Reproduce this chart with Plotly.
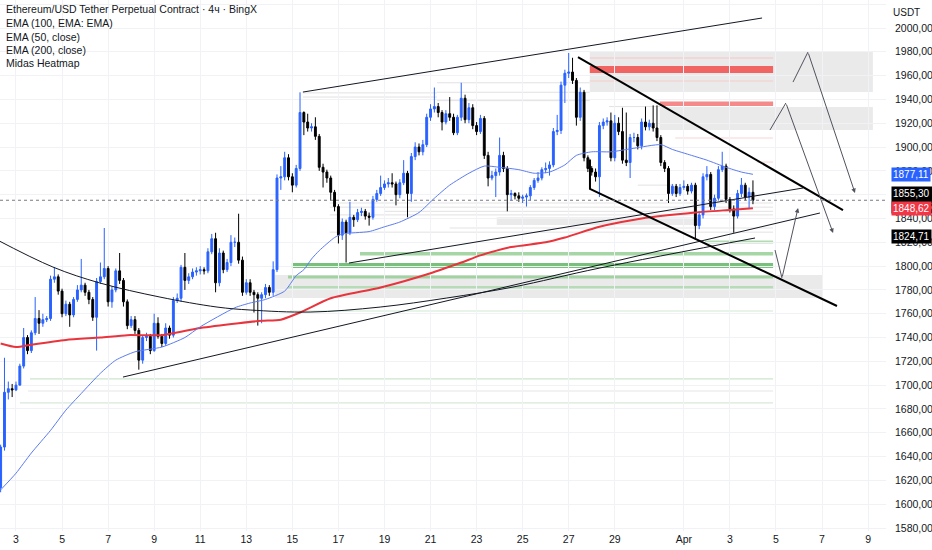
import pandas as pd
import plotly.graph_objects as go

# 4h candles, first one opens 2023-03-02 08:00
start = "2023-03-02 08:00"
first_open = 1614

close = [
    1648, 1694, 1697, 1696, 1700, 1716, 1740, 1729, 1744, 1756,
    1752, 1755, 1756, 1789, 1791, 1779, 1760, 1768, 1759, 1772,
    1780, 1784, 1778, 1772, 1757, 1787, 1791, 1798, 1770, 1780,
    1796, 1788, 1770, 1750, 1755, 1746, 1721, 1740, 1741, 1729,
    1752, 1741, 1735, 1748, 1742, 1771, 1773, 1799, 1788, 1791,
    1795, 1796, 1797, 1796, 1812, 1823, 1786, 1811, 1797, 1803,
    1820, 1820, 1805, 1778, 1786, 1778, 1776, 1773, 1776, 1782,
    1778, 1797, 1874, 1875, 1891, 1875, 1868, 1882, 1929, 1921,
    1916, 1917, 1909, 1883, 1879, 1874, 1862, 1850, 1826, 1837,
    1828, 1841, 1839, 1845, 1846, 1842, 1841, 1856, 1861, 1866,
    1869, 1870, 1869, 1860, 1870, 1878, 1861, 1892, 1900, 1896,
    1902, 1925, 1932, 1934, 1929, 1921, 1928, 1925, 1912, 1925,
    1941, 1923, 1933, 1918, 1913, 1924, 1893, 1874, 1876, 1879,
    1893, 1882, 1860, 1861, 1859, 1857, 1858, 1859, 1866, 1872,
    1874, 1881, 1882, 1885, 1913, 1914, 1952, 1962, 1963, 1956,
    1925, 1946, 1891, 1882, 1879, 1875, 1918, 1921, 1922, 1891,
    1920, 1913, 1889, 1887, 1908, 1908, 1901, 1921, 1917, 1920,
    1916, 1908, 1887, 1882, 1861, 1867, 1861, 1866, 1867, 1863,
    1868, 1834, 1843, 1875, 1877, 1850, 1857, 1881, 1884, 1856,
    1848, 1842, 1861, 1868, 1858, 1862, 1855.3,
]
high = [
    1650, 1723, 1703, 1701, 1703, 1718, 1748, 1742, 1746, 1774,
    1763, 1760, 1758, 1792, 1799, 1793, 1781, 1771, 1770, 1774,
    1784, 1806, 1786, 1780, 1774, 1790, 1803, 1832, 1800, 1783,
    1798, 1811, 1790, 1772, 1758, 1758, 1748, 1742, 1744, 1743,
    1760, 1757, 1743, 1752, 1750, 1774, 1777, 1801, 1811, 1794,
    1798, 1799, 1800, 1799, 1815, 1827, 1828, 1815, 1813, 1806,
    1826, 1824, 1844, 1808, 1789, 1789, 1780, 1778, 1778, 1785,
    1784, 1804, 1877, 1884, 1896, 1894, 1878, 1885, 1946, 1930,
    1928, 1920, 1925, 1911, 1886, 1881, 1876, 1864, 1852, 1840,
    1839, 1854, 1843, 1848, 1849, 1848, 1845, 1859, 1864, 1876,
    1872, 1874, 1878, 1871, 1873, 1889, 1880, 1895, 1904, 1903,
    1906, 1928, 1936, 1950, 1937, 1931, 1931, 1942, 1928, 1927,
    1954, 1944, 1937, 1936, 1921, 1927, 1926, 1896, 1880, 1882,
    1908, 1896, 1884, 1864, 1862, 1862, 1860, 1861, 1868, 1874,
    1879, 1883, 1887, 1888, 1916, 1927, 1955, 1965, 1979, 1975,
    1958, 1950, 1948, 1893, 1884, 1882, 1921, 1924, 1925, 1929,
    1927, 1925, 1933, 1929, 1911, 1912, 1911, 1924, 1934, 1923,
    1935, 1935, 1910, 1889, 1884, 1869, 1869, 1869, 1872, 1869,
    1870, 1870, 1846, 1878, 1884, 1879, 1860, 1884, 1896, 1886,
    1858, 1851, 1864, 1874, 1870, 1866, 1872,
]
low = [
    1610, 1645, 1688, 1690, 1695, 1700, 1714, 1726, 1727, 1742,
    1743, 1749, 1753, 1754, 1786, 1776, 1757, 1758, 1749, 1757,
    1770, 1778, 1775, 1768, 1754, 1729, 1785, 1789, 1766, 1765,
    1778, 1785, 1766, 1747, 1748, 1743, 1713, 1718, 1737, 1726,
    1728, 1739, 1732, 1733, 1739, 1740, 1769, 1770, 1780, 1785,
    1789, 1792, 1793, 1793, 1794, 1810, 1778, 1783, 1794, 1795,
    1800, 1816, 1802, 1775, 1776, 1775, 1761, 1750, 1752, 1773,
    1775, 1775, 1795, 1864, 1872, 1872, 1862, 1866, 1880, 1910,
    1913, 1913, 1906, 1880, 1866, 1870, 1855, 1846, 1819, 1822,
    1803, 1826, 1833, 1837, 1842, 1839, 1834, 1839, 1854, 1859,
    1864, 1866, 1866, 1851, 1857, 1868, 1841, 1854, 1889, 1893,
    1893, 1900, 1922, 1929, 1925, 1914, 1919, 1922, 1910, 1910,
    1922, 1920, 1920, 1915, 1910, 1911, 1890, 1867, 1872, 1858,
    1876, 1879, 1846, 1855, 1856, 1854, 1853, 1850, 1855, 1864,
    1870, 1872, 1878, 1876, 1883, 1910, 1911, 1937, 1958, 1953,
    1918, 1922, 1888, 1879, 1876, 1871, 1858, 1915, 1918, 1888,
    1888, 1910, 1886, 1884, 1874, 1904, 1898, 1898, 1914, 1914,
    1913, 1905, 1884, 1879, 1853, 1859, 1858, 1859, 1864, 1860,
    1861, 1822, 1831, 1840, 1872, 1847, 1847, 1855, 1879, 1853,
    1845, 1828, 1840, 1858, 1855, 1848, 1852,
]

# EMA values at some candle indices
ema50_idx = [0, 4, 8, 13, 17, 21, 26, 30, 35, 42, 48, 52, 61, 65, 69, 74, 77, 79, 81, 83,
             87, 89, 96, 100, 104, 109, 113, 117, 122, 126, 130, 135, 139, 143, 147, 150,
             154, 159, 165, 172, 175, 180, 184, 189, 193, 196]
ema50 = [1612, 1626, 1643, 1662, 1679, 1693, 1710, 1721, 1728, 1732, 1740, 1749, 1765, 1769,
         1772, 1779, 1792, 1797, 1806, 1813, 1824, 1827, 1829, 1833, 1837, 1845, 1857, 1868,
         1878, 1884, 1883, 1881, 1878, 1879, 1885, 1893, 1896, 1896, 1899, 1902, 1898, 1893,
         1889, 1883, 1879, 1877.11]
ema200_idx = [0, 4, 8, 17, 26, 33, 42, 52, 62, 68, 73, 78, 86, 99, 112, 120, 125, 133, 142,
              147, 156, 167, 181, 189, 196]
ema200 = [1735, 1732, 1734, 1738, 1740, 1742, 1742, 1748, 1752, 1754, 1755, 1761, 1773, 1782,
          1794, 1803, 1809, 1816, 1820, 1824, 1833, 1840, 1845, 1847, 1848.62]

# x-axis labels
tick_dates = ["2023-03-03", "2023-03-05", "2023-03-07", "2023-03-09", "2023-03-11",
              "2023-03-13", "2023-03-15", "2023-03-17", "2023-03-19", "2023-03-21",
              "2023-03-23", "2023-03-25", "2023-03-27", "2023-03-29", "2023-04-01",
              "2023-04-03", "2023-04-05", "2023-04-07", "2023-04-09"]
tick_text = ["3", "5", "7", "9", "11", "13", "15", "17", "19", "21", "23", "25", "27", "29",
             "Apr", "3", "5", "7", "9"]

# Midas heatmap zones (start, end, low, high)
gray_zones = [
    ("2023-03-27 22:00", "2023-04-09 05:00", 1946.2, 1979.8),
    ("2023-03-30 23:00", "2023-04-09 05:00", 1914.3, 1933.6),
    ("2023-03-14 06:00", "2023-04-07 01:00", 1773.2, 1792.5),
    ("2023-03-23 21:00", "2023-04-01 17:00", 1834.5, 1841.0),
]
red_bands = [
    ("2023-03-27 22:00", "2023-04-04 21:00", 1962.2, 1968.1, "#f06464"),
    ("2023-03-30 23:00", "2023-04-04 21:00", 1934.5, 1938.3, "#f48a8a"),
    ("2023-03-27 22:00", "2023-04-04 21:00", 1974.3, 1975.3, "#f7c3c3"),
    ("2023-03-27 22:00", "2023-04-04 21:00", 1955.0, 1956.0, "#f7c9c9"),
    ("2023-03-31 15:00", "2023-04-04 21:00", 1907.2, 1908.0, "#f9d3d3"),
    ("2023-04-04 04:00", "2023-04-04 21:00", 1887.0, 1887.8, "#f9d3d3"),
]
green_bands = [
    ("2023-04-01 22:00", "2023-04-04 21:00", 1819.0, 1821.5, "#b3dbb3"),
    ("2023-03-17 22:30", "2023-04-04 21:00", 1808.9, 1811.8, "#a6d5a6"),
    ("2023-03-14 23:30", "2023-04-04 21:00", 1798.4, 1802.6, "#78c07b"),
    ("2023-03-14 19:30", "2023-04-04 21:00", 1789.6, 1792.1, "#a2d2a2"),
    ("2023-03-14 19:30", "2023-04-04 21:00", 1781.2, 1783.3, "#b7dbb7"),
    ("2023-03-14 21:30", "2023-04-04 21:00", 1761.8, 1762.8, "#d3e9d3"),
    ("2023-03-03 14:30", "2023-04-04 21:00", 1704.7, 1705.7, "#cde6cd"),
    ("2023-03-03 12:30", "2023-04-04 21:00", 1694.6, 1695.4, "#e3e6e3"),
    ("2023-03-03 04:00", "2023-04-04 21:00", 1684.6, 1685.6, "#d9e8d9"),
]
gray_lines = [
    ("2023-03-15 11:00", "2023-03-21 06:45", 1945.5),
    ("2023-03-15 11:00", "2023-03-21 06:45", 1942.0),
    ("2023-03-21 06:45", "2023-03-27 22:00", 1954.0),
    ("2023-03-21 06:45", "2023-03-27 22:00", 1946.0),
    ("2023-03-21 06:45", "2023-03-27 22:00", 1939.0),
    ("2023-03-28 18:00", "2023-03-30 23:00", 1934.0),
    ("2023-03-16 15:00", "2023-04-04 21:00", 1853.0),
    ("2023-03-16 15:00", "2023-04-04 21:00", 1849.5),
    ("2023-03-19 00:00", "2023-04-04 21:00", 1846.0),
    ("2023-03-16 15:00", "2023-04-04 21:00", 1843.0),
    ("2023-03-21 20:00", "2023-04-04 21:00", 1832.0),
    ("2023-03-16 15:00", "2023-04-04 21:00", 1828.5),
    ("2023-03-30 00:00", "2023-03-31 14:00", 1868.0),
]

# drawings (time, price)
channel_top = [("2023-03-15 11:00", 1946.2), ("2023-04-04 09:30", 2008.4)]
line_mid = [("2023-03-17 11:00", 1802.6), ("2023-04-06 04:10", 1865.6)]
line_low = [("2023-03-07 15:30", 1706.8), ("2023-04-06 21:50", 1844.6)]
arc = [("2023-03-02 02:00", 1823.0), ("2023-03-04 14:30", 1799.2), ("2023-03-06 15:30", 1785.8),
       ("2023-03-09 06:00", 1774.0), ("2023-03-11 17:30", 1765.6), ("2023-03-13 04:00", 1763.1),
       ("2023-03-15 18:30", 1761.4), ("2023-03-18 19:30", 1765.6), ("2023-03-21 17:00", 1773.2),
       ("2023-03-24 14:00", 1782.4), ("2023-03-28 08:30", 1798.4), ("2023-04-04 02:10", 1823.6)]
desc_top = [("2023-03-27 09:40", 1975.6), ("2023-04-07 21:50", 1847.1)]
desc_low = [("2023-03-27 22:10", 1889.6), ("2023-03-27 22:10", 1864.8), ("2023-04-07 15:35", 1766.5)]
arrows = [
    [("2023-04-05 17:45", 1954.6), ("2023-04-06 09:20", 1979.8), ("2023-04-08 10:20", 1861.4)],
    [("2023-04-04 17:45", 1914.3), ("2023-04-05 10:20", 1937.0), ("2023-04-07 11:30", 1827.8)],
    [("2023-04-04 23:00", 1813.5), ("2023-04-05 06:15", 1790.0), ("2023-04-05 23:00", 1848.8)],
]

last_price = 1855.30
price_tags = [(1877.11, "1877,11", "#2962ff"), (1855.30, "1855,30<br>01:10:26", "#000000"),
              (1848.62, "1848,62", "#f23645"), (1824.71, "1824,71", "#000000")]

legend_lines = ["Ethereum/USD Tether Perpetual Contract · 4ч · BingX", "EMA (100, EMA: EMA)",
                "EMA (50, close)", "EMA (200, close)", "Midas Heatmap"]

BLUE = "#2962ff"
FONT = "Liberation Sans Narrow, Liberation Sans, Arial, sans-serif"
PLOT_H = 531

times = pd.date_range(start, periods=len(close), freq="4h")
opens = [first_open] + close[:-1]

fig = go.Figure()

fig.add_trace(go.Scatter(x=[times[i] for i in ema200_idx], y=ema200, mode="lines",
                         line=dict(color="#e8343c", width=2, shape="spline", smoothing=0.6),
                         hoverinfo="skip"))
fig.add_trace(go.Scatter(x=[times[i] for i in ema50_idx], y=ema50, mode="lines",
                         line=dict(color="#5b7bf0", width=1, shape="spline", smoothing=0.6),
                         hoverinfo="skip"))

fig.add_trace(go.Candlestick(
    x=times, open=opens, high=high, low=low, close=close,
    increasing=dict(line=dict(color=BLUE, width=1), fillcolor=BLUE),
    decreasing=dict(line=dict(color="#000000", width=1), fillcolor="#000000"),
    whiskerwidth=0, hoverinfo="skip",
))

shapes = []
for x0, x1, y0, y1 in gray_zones:
    shapes.append(dict(type="rect", xref="x", yref="y", x0=x0, x1=x1, y0=y0, y1=y1,
                       fillcolor="rgba(200,200,200,0.38)", line_width=0, layer="below"))
for x0, x1, y0, y1, c in red_bands + green_bands:
    shapes.append(dict(type="rect", xref="x", yref="y", x0=x0, x1=x1, y0=y0, y1=y1,
                       fillcolor=c, line_width=0, layer="below"))
for x0, x1, y in gray_lines:
    shapes.append(dict(type="line", xref="x", yref="y", x0=x0, x1=x1, y0=y, y1=y,
                       line=dict(color="rgba(190,190,190,0.45)", width=1), layer="below"))
# last price dotted line
shapes.append(dict(type="line", xref="paper", yref="y", x0=0, x1=1, y0=last_price, y1=last_price,
                   line=dict(color="#787b86", width=1, dash="dot")))
fig.update_layout(shapes=shapes)


def poly(pts, color, width, shape="linear"):
    fig.add_trace(go.Scatter(x=[p[0] for p in pts], y=[p[1] for p in pts], mode="lines",
                             line=dict(color=color, width=width, shape=shape),
                             hoverinfo="skip"))


poly(channel_top, "#131722", 1)
poly(line_mid, "#131722", 1)
poly(line_low, "#131722", 1)
poly(arc, "#131722", 1, "spline")
poly(desc_top, "#000000", 2)
poly(desc_low, "#000000", 2)

annotations = []
for a in arrows:
    poly(a[:2], "#50535e", 1)
    annotations.append(dict(x=a[2][0], y=a[2][1], ax=a[1][0], ay=a[1][1], xref="x", yref="y",
                            axref="x", ayref="y", showarrow=True, arrowhead=2, arrowsize=0.9,
                            arrowwidth=1, arrowcolor="#50535e", text=""))

for price, txt, col in price_tags:
    annotations.append(dict(x=1.0, xref="paper", y=price, yref="y", xanchor="left",
                            xshift=5, text=txt, showarrow=False, bgcolor=col, borderpad=1,
                            font=dict(family=FONT, size=10, color="white"), align="left"))

ypix = [9, 23, 37, 50, 63]
for i, (txt, yp) in enumerate(zip(legend_lines, ypix)):
    annotations.append(dict(x=0, xref="paper", xshift=4, y=1 - yp / PLOT_H, yref="paper",
                            xanchor="left", yanchor="middle", text=txt, showarrow=False,
                            font=dict(family=FONT, size=10.5, color="#131722")))
annotations.append(dict(x=1.0, xref="paper", xshift=20, y=1 - 12 / PLOT_H, yref="paper",
                        xanchor="center", yanchor="middle", text="USDT", showarrow=False,
                        font=dict(family=FONT, size=10, color="#131722")))

fig.update_layout(
    width=932, height=550,
    margin=dict(l=0, r=46, t=0, b=550 - PLOT_H),
    paper_bgcolor="white", plot_bgcolor="white",
    showlegend=False, separators=", ",
    annotations=annotations,
    xaxis=dict(type="date", range=["2023-03-02 07:20", "2023-04-09 18:40"],
               tickvals=tick_dates, ticktext=tick_text, showgrid=True, gridcolor="#f0f2f6",
               gridwidth=1, zeroline=False, showline=False, ticks="",
               rangeslider=dict(visible=False),
               tickfont=dict(family=FONT, size=10.5, color="#131722")),
    yaxis=dict(side="right", range=[1577.48, 2023.52], dtick=20, tick0=1580, tickformat=".2f",
               showgrid=True, gridcolor="#f0f2f6", gridwidth=1, zeroline=False, ticks="",
               ticklabelstandoff=8, showline=False,
               tickfont=dict(family=FONT, size=10.5, color="#131722")),
)

fig.write_html("out.html", config={"displayModeBar": False},
               post_script="document.body.style.margin='0';")
